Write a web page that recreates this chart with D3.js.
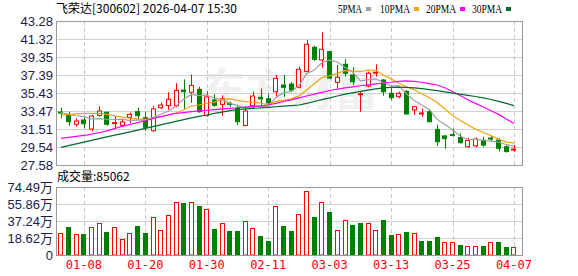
<!DOCTYPE html>
<html>
<head>
<meta charset="utf-8">
<script src="https://cdn.jsdelivr.net/npm/d3@7"></script>
<style>
  body { margin: 0; background: #fff; }
  svg { display: block; }
  text { font-family: "Liberation Sans", Arial, sans-serif; }
</style>
</head>
<body>
<svg id="kline" width="578" height="276"></svg>
<script>
// trading days shown
var dates = ["01-05","01-06","01-07","01-08","01-09","01-12","01-13","01-14","01-15","01-16",
             "01-19","01-20","01-21","01-22","01-23","01-26","01-27","01-28","01-29","01-30",
             "02-02","02-03","02-04","02-05","02-06","02-09","02-10","02-11","02-12","02-13",
             "02-24","02-25","02-26","02-27","03-02","03-03","03-04","03-05","03-06","03-09",
             "03-10","03-11","03-12","03-13","03-16","03-17","03-18","03-19","03-20","03-23",
             "03-24","03-25","03-26","03-27","03-30","03-31","04-01","04-02","04-03","04-07"];

var open  = [33.35,33.10,32.02,32.49,31.50,32.99,33.33,32.10,31.91,32.78,
             33.39,32.74,31.32,33.83,34.05,34.05,35.75,35.51,35.83,32.96,
             34.67,34.19,34.30,33.75,31.87,34.05,34.96,34.80,35.57,36.30,
             36.40,36.05,37.76,40.41,39.03,39.94,36.59,38.56,37.39,35.30,
             36.19,37.60,36.85,35.40,35.03,35.60,33.58,33.18,33.39,31.47,
             30.75,30.90,30.56,29.57,29.68,30.28,30.52,30.30,29.57,29.25];
var high  = [33.83,33.39,32.67,32.78,33.03,33.98,33.39,32.92,32.49,33.28,
             33.83,33.39,34.01,34.42,35.51,36.50,36.92,37.44,36.12,35.62,
             35.29,35.18,34.50,34.12,34.00,35.60,35.90,35.30,37.40,37.40,
             36.62,38.30,41.21,40.59,42.05,40.01,38.48,39.10,38.23,35.57,
             37.76,38.56,36.96,36.12,35.57,35.75,34.01,33.76,33.70,31.95,
             30.80,31.55,31.04,30.56,30.60,30.67,30.75,30.50,29.73,29.76];
var low   = [32.67,31.87,31.76,31.58,31.25,32.85,31.87,31.47,31.76,32.12,
             32.49,31.29,31.21,33.65,33.60,33.87,33.58,34.37,33.28,32.85,
             33.94,32.96,33.90,31.94,31.83,33.70,34.10,34.00,35.00,35.00,
             35.50,35.94,37.72,38.92,38.20,36.95,35.94,37.21,36.30,33.39,
             36.05,37.21,35.14,34.67,34.85,33.05,33.03,32.85,32.25,29.66,
             29.35,30.68,29.94,29.46,29.50,29.57,30.20,29.05,28.92,29.03];
var close = [33.30,32.30,32.38,32.08,32.92,33.47,32.02,32.20,32.27,33.10,
             32.96,31.69,33.69,34.12,34.74,35.72,35.57,36.26,33.39,35.00,
             34.09,34.81,34.20,32.30,33.47,35.10,34.80,34.35,37.03,36.05,
             35.75,38.01,40.74,39.10,40.19,37.05,37.14,37.58,36.66,35.35,
             37.58,37.70,35.57,34.92,35.40,33.15,33.94,33.25,32.30,30.12,
             30.45,30.82,30.01,30.25,30.40,29.75,30.48,29.40,29.05,29.32];
var prevClose = 32.90; // close of the day before 01-05

// volume, unit 万
var volume = [23.8,31.0,22.7,23.0,30.7,34.7,25.2,30.7,17.5,23.8,
              31.8,24.1,41.3,27.0,43.5,57.7,57.0,57.7,53.7,50.4,
              28.5,34.7,26.3,26.3,36.9,29.6,20.8,15.3,53.3,31.8,
              26.3,44.6,70.1,41.6,57.7,47.1,27.0,38.3,32.9,35.1,
              34.7,27.0,38.3,21.9,22.7,25.2,23.8,15.3,15.3,19.7,
              13.9,13.9,11.0,9.9,9.9,9.9,13.9,14.2,9.1,8.51];

var ma5  = [33.30,33.10,32.95,32.85,32.60,32.63,32.57,32.54,32.58,32.41,
            32.51,32.44,32.74,33.11,33.44,34.00,34.77,35.28,35.14,35.19,
            34.86,34.71,34.30,34.08,33.77,33.98,33.97,34.00,34.95,35.47,
            35.60,36.24,37.52,37.93,38.76,39.02,38.84,38.21,37.72,36.76,
            36.86,36.97,36.57,36.22,36.23,35.35,34.60,34.13,33.61,32.55,
            32.01,31.39,30.74,30.33,30.39,30.25,30.18,30.06,29.82,29.60];
var ma10 = [33.00,33.10,33.15,33.20,33.22,33.20,33.10,32.95,32.80,32.68,
            32.60,32.55,32.64,32.84,33.03,33.25,33.61,34.01,34.12,34.31,
            34.43,34.74,34.79,34.61,34.48,34.42,34.34,34.15,34.52,34.62,
            34.79,35.11,35.76,36.44,37.11,37.31,37.54,37.86,37.83,37.76,
            37.94,37.91,37.39,36.97,36.50,36.11,35.79,35.35,34.92,34.39,
            33.68,32.99,32.44,31.97,31.47,31.13,30.78,30.40,30.07,29.99];
var ma20 = [30.49,30.60,30.70,30.80,30.95,31.10,31.30,31.55,31.80,32.00,
            32.20,32.40,32.65,32.85,33.05,33.20,33.30,33.40,33.48,33.55,
            33.62,33.70,33.76,33.82,33.88,33.95,34.03,34.12,34.30,34.50,
            34.68,34.90,35.10,35.30,35.50,35.70,35.85,35.98,36.10,36.22,
            36.32,36.42,36.52,36.60,36.70,36.75,36.70,36.60,36.45,36.30,
            36.00,35.60,35.15,34.70,34.30,33.90,33.50,33.10,32.60,32.10];
var ma30 = [29.51,29.70,29.89,30.07,30.26,30.45,30.64,30.83,31.01,31.20,
            31.39,31.58,31.77,31.95,32.14,32.33,32.52,32.71,32.89,33.03,
            33.20,33.35,33.50,33.62,33.70,33.76,33.81,33.86,33.93,34.00,
            34.06,34.12,34.30,34.50,34.70,34.90,35.10,35.30,35.45,35.60,
            35.75,35.88,35.98,36.05,36.08,36.05,35.98,35.90,35.80,35.68,
            35.55,35.42,35.30,35.18,35.05,34.90,34.72,34.52,34.30,34.05];

var priceTicks = [27.58,29.54,31.51,33.47,35.43,37.39,39.35,41.32,43.28];
var volTicks = [0,18.62,37.24,55.86,74.49];
var dateTicks = ["01-08","01-20","01-30","02-11","03-03","03-13","03-25","04-07"];

var maNames = ["5PMA","10PMA","20PMA","30PMA"];
var maColors = ["#a0a0a0","#f2a20c","#ff00ff","#006b2e"];
var maSeries = [ma5, ma10, ma20, ma30];

var RED = "#ff0000", GREEN = "#008000";

var svg = d3.select("#kline");

var left = 56, right = 522;
var pTop = 21, pBot = 165, vTop = 187, vBot = 255;

var x = d3.scaleBand()
    .domain(dates)
    .range([57, 517.8])
    .paddingInner(0.35)
    .paddingOuter(0.175);
var bw = x.bandwidth();
var cx = function(d){ return Math.round(x(d) + bw/2) + 0.5; };

var y = d3.scaleLinear().domain([27.58, 43.28]).range([pBot, pTop]);
var yv = d3.scaleLinear().domain([0, 74.49]).range([vBot, vTop]);

// watermark
svg.append("text")
    .attr("x", 290).attr("y", 106)
    .attr("text-anchor", "middle")
    .style("font-family", "'Noto Sans CJK SC', sans-serif")
    .style("font-size", "44px")
    .style("font-weight", "bold")
    .style("fill", "#f0f0f0")
    .text("东方财富");

// grids
svg.selectAll(".hgrid").data(priceTicks.slice(1, -1)).enter().append("line")
    .attr("x1", left).attr("x2", right)
    .attr("y1", function(d){ return Math.round(y(d)) + 0.5; })
    .attr("y2", function(d){ return Math.round(y(d)) + 0.5; })
    .style("stroke", "#d0d0d0");
svg.selectAll(".vhgrid").data(volTicks.slice(1, -1)).enter().append("line")
    .attr("x1", left).attr("x2", right)
    .attr("y1", function(d){ return Math.round(yv(d)) + 0.5; })
    .attr("y2", function(d){ return Math.round(yv(d)) + 0.5; })
    .style("stroke", "#d0d0d0");
[[pTop, pBot], [vTop, vBot]].forEach(function(r){
  svg.append("g").selectAll("line").data(dateTicks).enter().append("line")
    .attr("x1", cx).attr("x2", cx)
    .attr("y1", r[0]).attr("y2", r[1])
    .style("stroke", "#c8c8c8")
    .style("stroke-dasharray", "4,3");
});

// candles
var candles = svg.append("g").selectAll("g").data(dates).enter().append("g");
candles.each(function(d, i){
  var g = d3.select(this);
  var up = close[i] >= open[i];
  var col = up ? RED : GREEN;
  var top = y(Math.max(open[i], close[i])), bot = y(Math.min(open[i], close[i]));
  var bx = Math.round(x(d)) + 0.5;
  g.append("line")
    .attr("x1", cx(d)).attr("x2", cx(d))
    .attr("y1", y(high[i])).attr("y2", y(low[i]))
    .style("stroke", col);
  g.append("rect")
    .attr("x", bx).attr("y", top)
    .attr("width", Math.round(bw) - 1)
    .attr("height", Math.max(1, bot - top))
    .style("fill", up ? "#fff" : GREEN)
    .style("stroke", col);
});

// moving averages
var line = d3.line()
    .x(function(v, i){ return x(dates[i]) + bw/2; })
    .y(function(v){ return y(v); });
maSeries.forEach(function(s, k){
  svg.append("path")
    .attr("d", line(s))
    .style("fill", "none")
    .style("stroke", maColors[k])
    .style("stroke-width", 1.2);
});

// volume bars, coloured by change vs previous close
svg.append("g").selectAll("rect").data(dates).enter().append("rect")
  .each(function(d, i){
    var pc = i === 0 ? prevClose : close[i-1];
    var up = close[i] >= pc;
    d3.select(this)
      .attr("x", Math.round(x(d)) + 0.5)
      .attr("y", Math.round(yv(volume[i])) + 0.5)
      .attr("width", Math.round(bw) - 1)
      .attr("height", Math.max(0, vBot - Math.round(yv(volume[i])) - 0.5))
      .style("fill", up ? "#fff" : GREEN)
      .style("stroke", up ? RED : GREEN);
  });

// frames
[[pTop, pBot], [vTop, vBot]].forEach(function(r){
  svg.append("rect")
    .attr("x", left + 0.5).attr("y", r[0] + 0.5)
    .attr("width", right - left).attr("height", r[1] - r[0])
    .style("fill", "none")
    .style("stroke", "#999");
});

// axes
var yAxis = d3.axisLeft(y).tickValues(priceTicks).tickSize(0).tickPadding(3)
    .tickFormat(d3.format(".2f"));
var gy = svg.append("g").attr("transform", "translate(" + left + ",0)").call(yAxis);
var yvAxis = d3.axisLeft(yv).tickValues(volTicks).tickSize(0).tickPadding(3)
    .tickFormat(function(d){ return d === 0 ? "0" : d.toFixed(2) + "万"; });
var gv = svg.append("g").attr("transform", "translate(" + left + ",0)").call(yvAxis);
[gy, gv].forEach(function(g){
  g.select(".domain").remove();
  g.selectAll("text")
    .style("font-size", "13px")
    .style("fill", "#1c1c4a")
    .style("font-family", "'Liberation Sans', 'Noto Sans CJK SC', sans-serif");
});

var xAxis = d3.axisBottom(x).tickValues(dateTicks).tickSize(0).tickPadding(5);
var gx = svg.append("g").attr("transform", "translate(0," + vBot + ")").call(xAxis);
gx.select(".domain").remove();
gx.selectAll("text")
  .style("font-size", "12px")
  .style("fill", RED)
  .style("font-family", "'DejaVu Sans Mono', monospace");

// title & legend
svg.append("text")
  .attr("x", 56).attr("y", 13)
  .style("font-family", "'Noto Sans CJK SC', sans-serif")
  .style("font-size", "12px")
  .style("fill", "#000")
  .text("飞荣达[300602] 2026-04-07 15:30");

var legX = [338, 380, 426, 472];
maNames.forEach(function(n, k){
  var w = n.length * 6;
  svg.append("text")
    .attr("x", legX[k]).attr("y", 13)
    .attr("textLength", w)
    .attr("lengthAdjust", "spacingAndGlyphs")
    .style("font-family", "'Liberation Serif', serif")
    .style("font-size", "12px")
    .style("fill", "#000")
    .text(n);
  svg.append("rect")
    .attr("x", legX[k] + w + 4).attr("y", 7)
    .attr("width", 5).attr("height", 4)
    .style("fill", maColors[k]);
});

svg.append("text")
  .attr("x", 57).attr("y", 181)
  .style("font-family", "'Noto Sans CJK SC', sans-serif")
  .style("font-size", "12px")
  .style("fill", "#000")
  .text("成交量:85062");
</script>
</body>
</html>
